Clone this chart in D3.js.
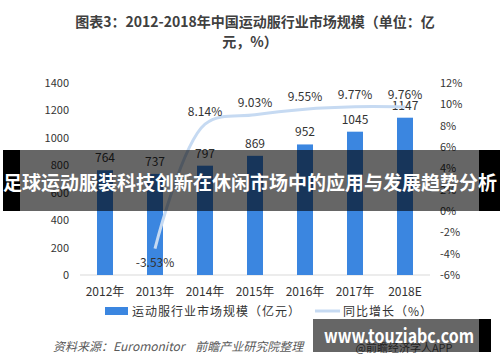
<!DOCTYPE html>
<html lang="zh">
<head>
    <meta charset="UTF-8">
    <title>运动服行业市场规模</title>
    <script src="https://d3js.org/d3.v7.min.js"></script>
    <style>
        body { margin: 0; background: #fff; }
        svg text { font-family: "Noto Sans CJK SC", "Noto Sans", sans-serif; }
    </style>
</head>
<body>
    <svg width="500" height="362"></svg>
    <script>
        const years = ["2012年", "2013年", "2014年", "2015年", "2016年", "2017年", "2018E"];
        const marketSize = [764, 737, 797, 869, 952, 1045, 1147];
        const growth = [null, -3.53, 8.14, 9.03, 9.55, 9.77, 9.76];
        const leftTicks = [0, 200, 400, 600, 800, 1000, 1200, 1400];
        const rightTicks = [-6, -4, -2, 0, 2, 4, 6, 8, 10, 12];

        const svg = d3.select("svg");
        const barColor = "#3b86e0";
        const lineColor = "#c6daf2";

        const x = d3.scaleBand().domain(years).range([80, 430])
            .paddingInner(0.68).paddingOuter(0.34);
        const yL = d3.scaleLinear().domain([0, 1400]).range([275, 83]);
        const yR = d3.scaleLinear().domain([-6, 12]).range([275, 83]);

        // title
        const title = svg.append("g").attr("fill", "#404040")
            .attr("font-size", 14).attr("font-weight", "bold").attr("text-anchor", "middle");
        title.append("text").attr("x", 255).attr("y", 27).text("图表3：2012-2018年中国运动服行业市场规模（单位：亿");
        title.append("text").attr("x", 250).attr("y", 47).text("元，%）");

        // axes
        const axisL = svg.append("g").attr("transform", "translate(80,0)")
            .call(d3.axisLeft(yL).tickValues(leftTicks).tickSize(0).tickPadding(11)
                .tickFormat(d3.format("d")));
        const axisR = svg.append("g").attr("transform", "translate(430,0)")
            .call(d3.axisRight(yR).tickValues(rightTicks).tickSize(0).tickPadding(10)
                .tickFormat(d => d + "%"));
        [axisL, axisR].forEach(a => {
            a.select(".domain").remove();
            a.selectAll("text").attr("font-size", 11).attr("fill", "#333")
                .attr("font-family", "'Noto Sans', sans-serif");
        });

        svg.append("line").attr("x1", 80).attr("x2", 430)
            .attr("y1", yL(0)).attr("y2", yL(0)).attr("stroke", "#d9d9d9");

        const axisX = svg.append("g").attr("transform", `translate(0,${yL(0)})`)
            .call(d3.axisBottom(x).tickSize(0).tickPadding(12));
        axisX.select(".domain").remove();
        axisX.selectAll("text").attr("font-size", 12).attr("fill", "#333");

        // bars
        svg.append("g").selectAll("rect").data(marketSize).join("rect")
            .attr("x", (d, i) => x(years[i]))
            .attr("width", x.bandwidth())
            .attr("y", d => yL(d))
            .attr("height", d => yL(0) - yL(d))
            .attr("fill", barColor);

        svg.append("g").attr("font-size", 12).attr("fill", "#333").attr("text-anchor", "middle")
            .selectAll("text").data(marketSize).join("text")
            .attr("x", (d, i) => x(years[i]) + x.bandwidth() / 2)
            .attr("y", d => yL(d) - 8)
            .attr("font-family", "'Noto Sans', sans-serif")
            .text(d => d);

        // growth line
        const pts = growth.map((g, i) => ({ g, year: years[i] })).filter(p => p.g !== null);
        const line = d3.line()
            .x(p => x(p.year) + x.bandwidth() / 2)
            .y(p => yR(p.g))
            .curve(d3.curveCatmullRom.alpha(0.5));
        svg.append("path").datum(pts).attr("d", line)
            .attr("fill", "none").attr("stroke", lineColor).attr("stroke-width", 3);

        svg.append("g").attr("font-size", 12).attr("fill", "#333").attr("text-anchor", "middle")
            .selectAll("text").data(pts).join("text")
            .attr("x", p => x(p.year) + x.bandwidth() / 2)
            .attr("y", p => p.g < 0 ? yR(p.g) + 18 : yR(p.g) - 8)
            .attr("font-family", "'Noto Sans', sans-serif")
            .text(p => p.g.toFixed(2) + "%");

        // legend
        const legend = svg.append("g").attr("font-size", 12).attr("fill", "#333");
        legend.append("rect").attr("x", 105).attr("y", 307).attr("width", 23).attr("height", 8).attr("fill", barColor);
        legend.append("text").attr("x", 132).attr("y", 315.5).attr("letter-spacing", 1).text("运动服行业市场规模（亿元）");
        legend.append("line").attr("x1", 315).attr("x2", 340).attr("y1", 311).attr("y2", 311)
            .attr("stroke", lineColor).attr("stroke-width", 3);
        legend.append("text").attr("x", 343).attr("y", 315.5).attr("letter-spacing", 1).text("同比增长（%）");

        // source
        svg.append("text").attr("x", 53).attr("y", 351).attr("font-size", 12)
            .attr("font-style", "italic").attr("fill", "#595959")
            .attr("xml:space", "preserve")
            .text("资料来源：Euromonitor    前瞻产业研究院整理");
        svg.append("text").attr("x", 404).attr("y", 352).attr("font-size", 11)
            .attr("text-anchor", "middle").attr("fill", "#595959").text("@前瞻经济学人APP");

        // overlay band
        svg.append("rect").attr("x", 3).attr("y", 150).attr("width", 17).attr("height", 61).attr("fill", "#000");
        svg.append("rect").attr("x", 20).attr("y", 150).attr("width", 459).attr("height", 61).attr("fill", "rgba(0,0,0,0.6)");
        svg.append("rect").attr("x", 479).attr("y", 150).attr("width", 21).attr("height", 61).attr("fill", "#000");
        svg.append("text").attr("x", 250).attr("y", 190).attr("text-anchor", "middle")
            .attr("font-size", 19).attr("font-weight", "bold").attr("fill", "#fff")
            .attr("textLength", 494).attr("lengthAdjust", "spacingAndGlyphs")
            .text("足球运动服装科技创新在休闲市场中的应用与发展趋势分析");

        // site box
        svg.append("rect").attr("x", 313).attr("y", 319).attr("width", 166).attr("height", 33).attr("fill", "rgba(0,0,0,0.6)");
        svg.append("rect").attr("x", 479).attr("y", 319).attr("width", 12).attr("height", 33).attr("fill", "#000");
        svg.append("text").attr("x", 399).attr("y", 343).attr("text-anchor", "middle")
            .attr("font-size", 19).attr("font-weight", "bold").attr("fill", "#fff")
            .attr("font-family", "'Open Sans', sans-serif")
            .attr("textLength", 150).attr("lengthAdjust", "spacingAndGlyphs")
            .text("www.touziabc.com");
    </script>
</body>
</html>
